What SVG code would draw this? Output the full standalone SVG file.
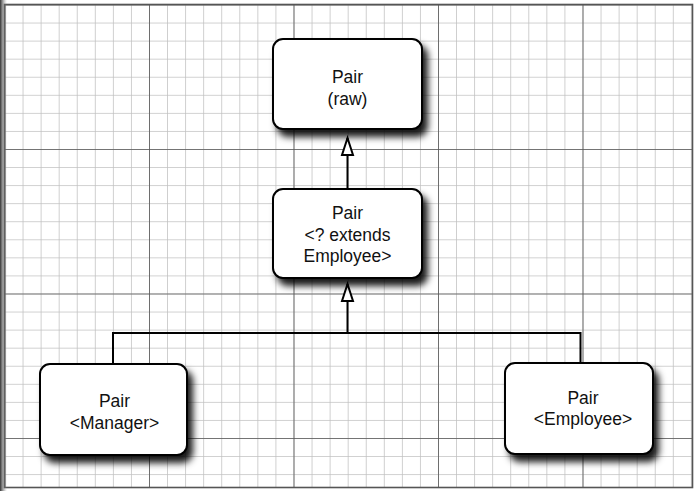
<svg xmlns="http://www.w3.org/2000/svg" width="695" height="491" viewBox="0 0 695 491">
<defs>
<pattern id="minor" x="4.5" y="4.5" width="18.0625" height="18.0625" patternUnits="userSpaceOnUse">
<path d="M0 0V18.0625M0 0H18.0625" fill="none" stroke="#c0c0c0" stroke-width="1.5"/>
</pattern>
<pattern id="major" x="4.5" y="4.5" width="144.5" height="144.5" patternUnits="userSpaceOnUse">
<path d="M0 0V144.5M0 0H144.5" fill="none" stroke="#555" stroke-width="1.6"/>
</pattern>
<linearGradient id="edge" x1="0" y1="0" x2="1" y2="0">
<stop offset="0" stop-color="#333"/>
<stop offset="1" stop-color="#999" stop-opacity="0"/>
</linearGradient>
<filter id="shadow" x="-20%" y="-20%" width="150%" height="150%">
<feDropShadow dx="5" dy="7" stdDeviation="3.5" flood-color="#000" flood-opacity="0.9"/>
</filter>
<marker id="tri" markerUnits="userSpaceOnUse" markerWidth="22" markerHeight="16" refX="19" refY="7" orient="auto" viewBox="0 0 22 14">
<path d="M19 7L2 1.5V12.5Z" fill="#fff" stroke="#000" stroke-width="2" stroke-linejoin="miter"/>
</marker>
</defs>
<style>
.box{fill:#fff;stroke:#000;stroke-width:2;filter:url(#shadow)}
.lbl{font-family:"Liberation Sans",Arial,sans-serif;font-size:17.5px;fill:#111;text-anchor:middle}
.conn{fill:none;stroke:#000;stroke-width:2}
</style>
<rect width="695" height="491" fill="#fff"/>
<rect x="4.5" y="4.5" width="688" height="483" fill="url(#minor)"/>
<rect x="4.5" y="4.5" width="688" height="483" fill="url(#major)"/>
<rect x="4.5" y="4.5" width="688" height="483" fill="none" stroke="#555" stroke-width="1.6"/>
<rect x="0" y="0" width="7" height="491" fill="url(#edge)"/>
<g id="connectors">
<path class="conn" d="M347.5 189V138" marker-end="url(#tri)"/>
<path class="conn" d="M347.5 333V284" marker-end="url(#tri)"/>
<path class="conn" d="M113 364V333H580.5V363"/>
</g>
<g id="node-raw">
<rect class="box" x="273" y="39" width="149" height="90" rx="10"/>
<text class="lbl" x="347.5" y="83">Pair</text>
<text class="lbl" x="347.5" y="105">(raw)</text>
</g>
<g id="node-extends">
<rect class="box" x="273" y="189" width="149" height="89" rx="10"/>
<text class="lbl" x="347.5" y="219">Pair</text>
<text class="lbl" x="347.5" y="240.5">&lt;? extends</text>
<text class="lbl" x="347.5" y="262">Employee&gt;</text>
</g>
<g id="node-manager">
<rect class="box" x="40" y="364" width="147" height="91" rx="10"/>
<text class="lbl" x="114.5" y="407">Pair</text>
<text class="lbl" x="114.5" y="429">&lt;Manager&gt;</text>
</g>
<g id="node-employee">
<rect class="box" x="505" y="363" width="148" height="91" rx="10"/>
<text class="lbl" x="583" y="404">Pair</text>
<text class="lbl" x="583" y="425">&lt;Employee&gt;</text>
</g>
</svg>
